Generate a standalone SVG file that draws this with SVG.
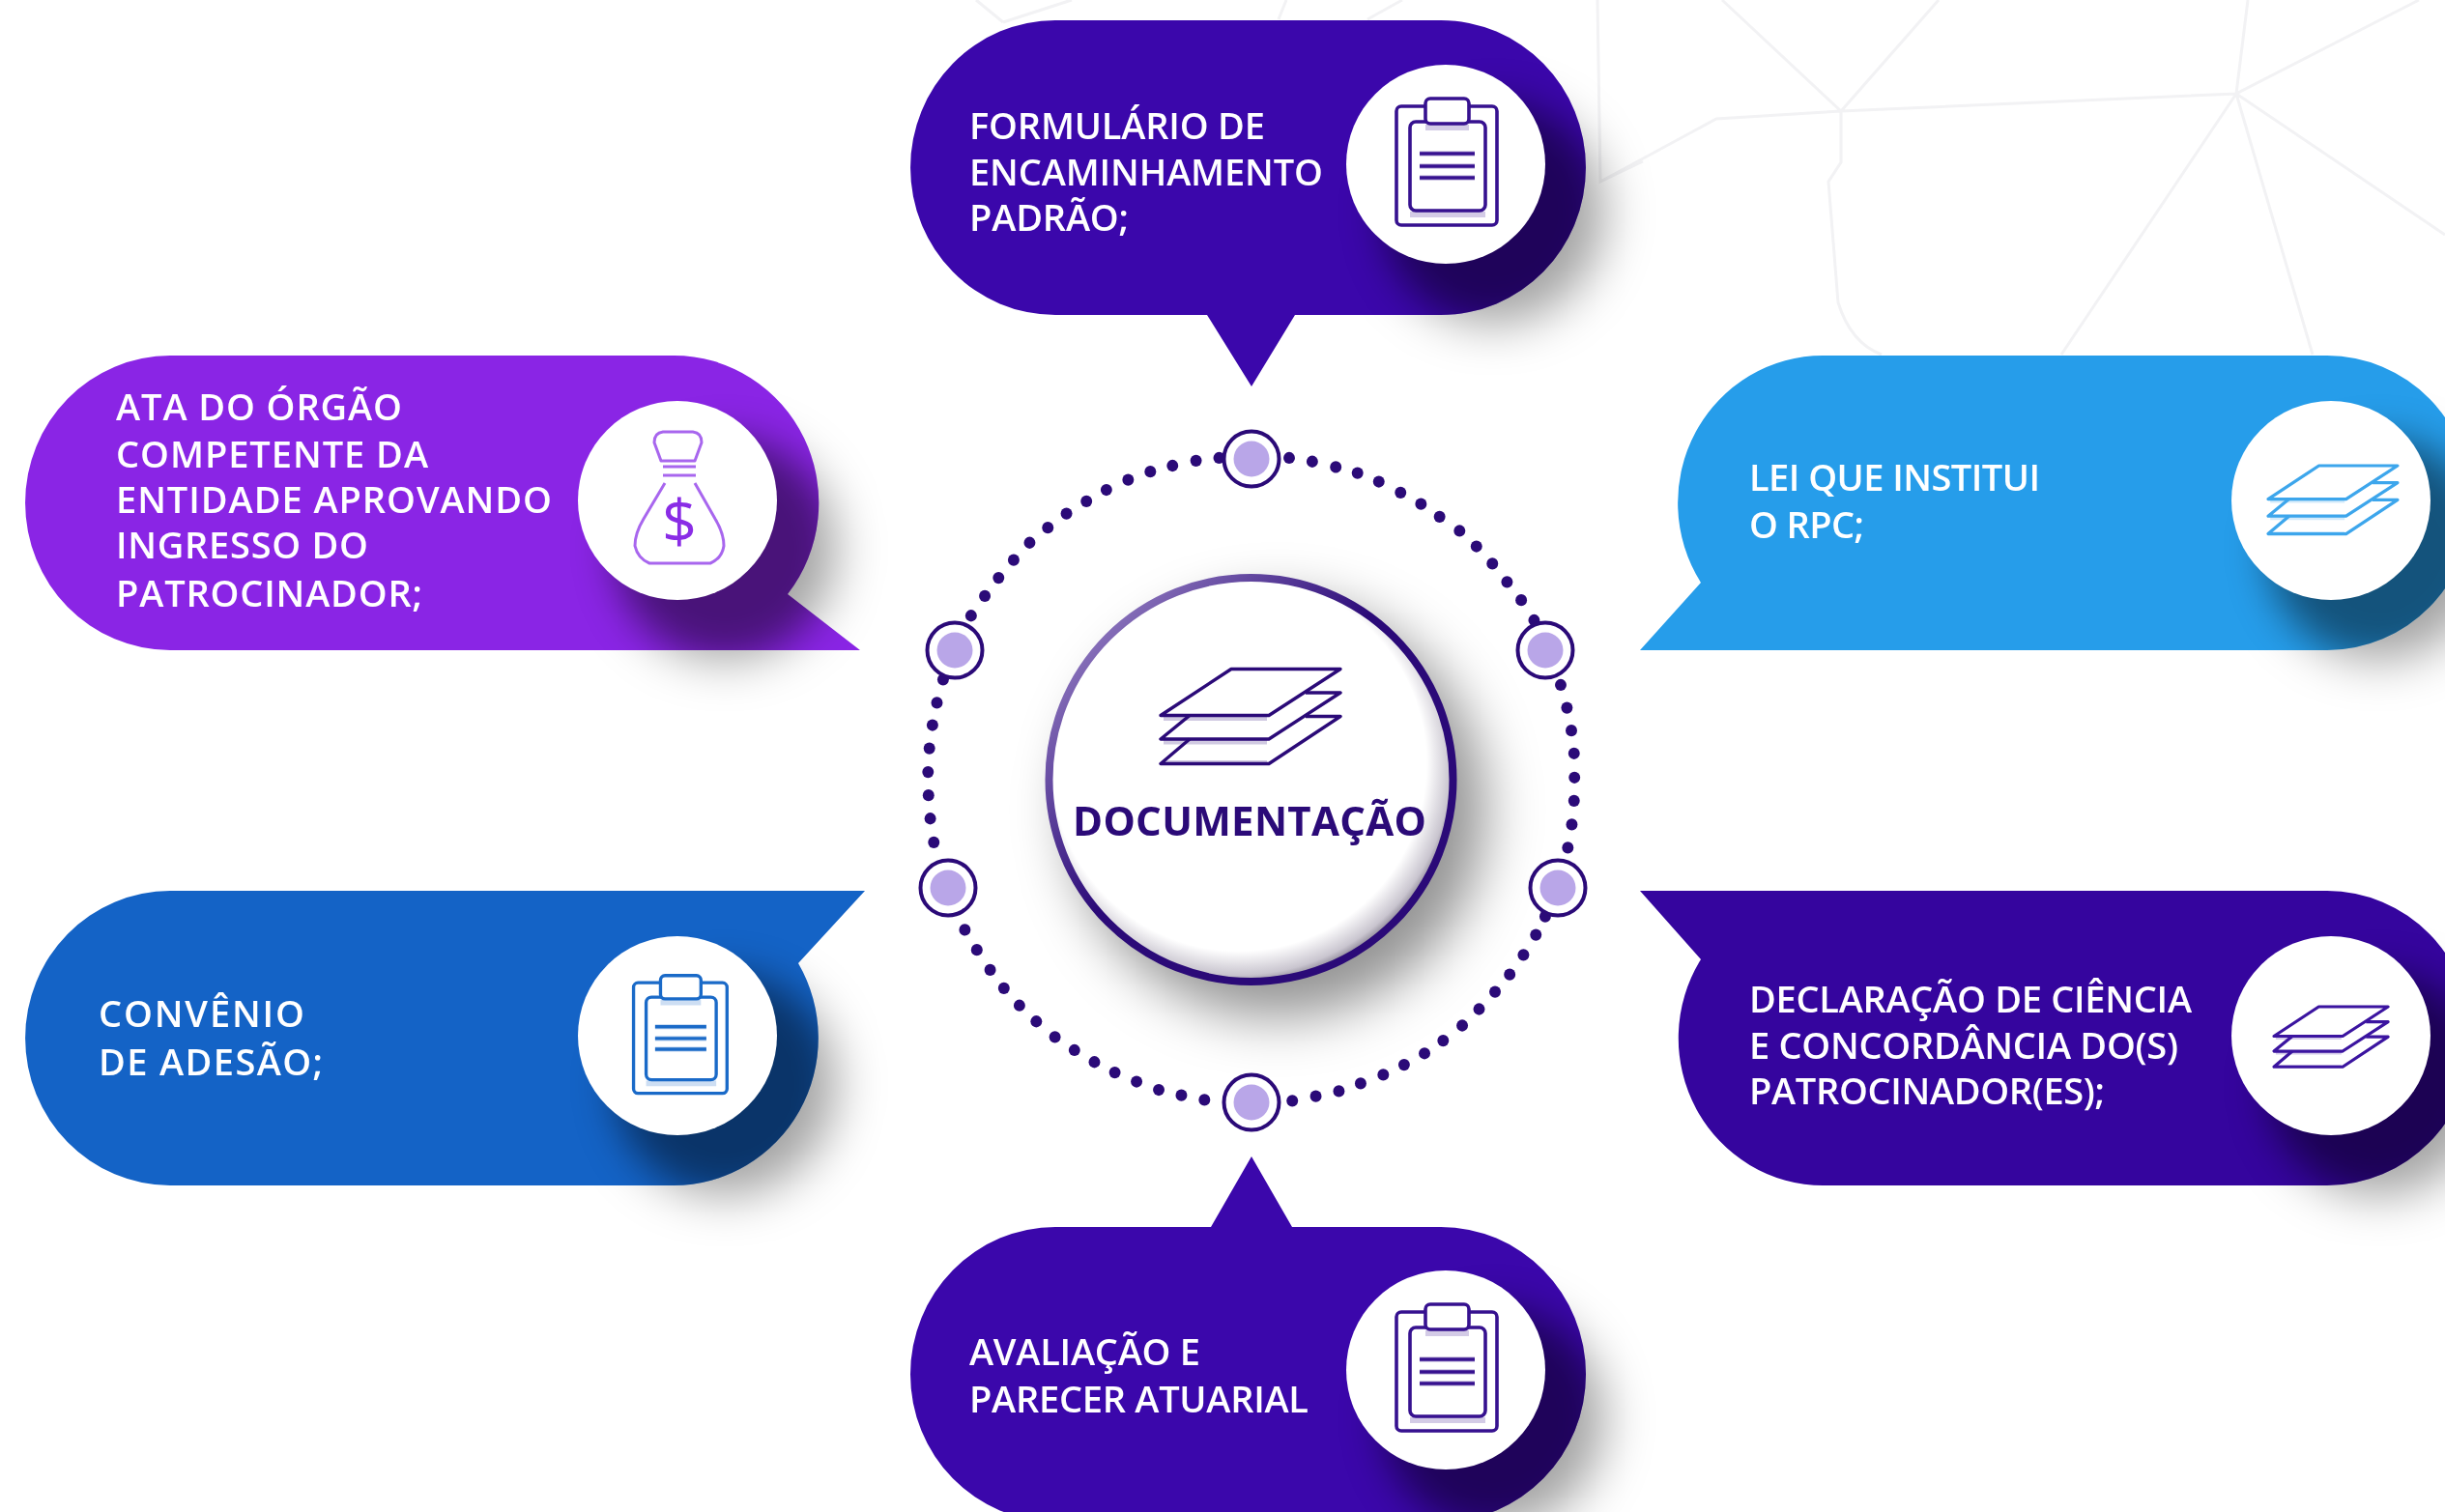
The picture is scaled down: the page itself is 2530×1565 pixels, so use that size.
<svg xmlns="http://www.w3.org/2000/svg" width="2530" height="1565" viewBox="0 0 2530 1565">
<style>
.net{fill:none;stroke:#f2f2f4;stroke-width:3}
.t{font-family:"Open Sans","Liberation Sans",sans-serif;font-size:38px;fill:#fff;font-weight:600}
.sh{fill:#000;fill-opacity:.47;filter:url(#blur)}
.so{fill:#000;fill-opacity:.36;filter:url(#blur3)}
.disc{fill:#fff}
.ic{fill:none;stroke:currentColor;stroke-linejoin:round}
.gh{fill:none;stroke:currentColor;stroke-opacity:.22}
.d{fill:#2b0a78}
.rn{fill:#fff;stroke:#2b0a78;stroke-width:4}
.rc{fill:#b9a6e8}
</style>
<defs>
<filter id="soft" filterUnits="userSpaceOnUse" x="-20" y="-20" width="2600" height="1620" color-interpolation-filters="sRGB"><feGaussianBlur stdDeviation=".75"/></filter>
<filter id="blur" x="-60%" y="-60%" width="220%" height="220%" color-interpolation-filters="sRGB"><feGaussianBlur stdDeviation="20"/></filter>
<filter id="blur3" x="-60%" y="-60%" width="220%" height="220%" color-interpolation-filters="sRGB"><feGaussianBlur stdDeviation="25"/></filter>
<filter id="blur2" x="-30%" y="-30%" width="160%" height="160%" color-interpolation-filters="sRGB"><feGaussianBlur stdDeviation="28"/></filter>
<linearGradient id="rim" gradientUnits="userSpaceOnUse" x1="1130" y1="650" x2="1400" y2="900"><stop offset="0" stop-color="#8b74bc"/><stop offset=".55" stop-color="#2b0a78"/></linearGradient>
<radialGradient id="face" cx=".47" cy=".46" r=".54"><stop offset=".86" stop-color="#fff"/><stop offset=".97" stop-color="#c9c5cf"/><stop offset="1" stop-color="#9d98a6"/></radialGradient>
<path id="p1" d="M1092 21H1491A150 152.5 0 0 1 1491 326H1340L1295 400L1249 326H1092A150 152.5 0 0 1 1092 21Z"/>
<path id="p2" d="M176 368H697A150 152.5 0 0 1 815 615L890 673H176A150 152.5 0 0 1 176 368Z"/>
<path id="p3" d="M1887 368H2408A150 152.5 0 0 1 2408 673H1697L1760 603A150 152.5 0 0 1 1887 368Z"/>
<path id="p4" d="M176 922H895L826 997A150 152.5 0 0 1 697 1227H176A150 152.5 0 0 1 176 922Z"/>
<path id="p5" d="M1697 922H2408A150 152.5 0 0 1 2408 1227H1887A150 152.5 0 0 1 1760 993Z"/>
<path id="p6" d="M1092 1270H1253L1295 1197L1337 1270H1491A150 152.5 0 0 1 1491 1575H1092A150 152.5 0 0 1 1092 1270Z"/>
<clipPath id="c1"><use href="#p1"/></clipPath>
<clipPath id="c2"><use href="#p2"/></clipPath>
<clipPath id="c3"><use href="#p3"/></clipPath>
<clipPath id="c4"><use href="#p4"/></clipPath>
<clipPath id="c5"><use href="#p5"/></clipPath>
<clipPath id="c6"><use href="#p6"/></clipPath>
<g id="clip">
<g class="gh" stroke-width="6"><path d="M-37 52H41M-27-11H30M-27 2H30M-27 14H30M-21-38H24"/></g>
<g class="ic" stroke-width="3.6">
<rect x="-51" y="-60" width="104" height="123" rx="5"/>
<rect x="-37" y="-44" width="78" height="92" rx="6"/>
<rect x="-21" y="-68" width="45" height="26" rx="5" fill="#fff"/>
<path d="M-27-11H30M-27 2H30M-27 14H30"/>
</g>
</g>
<g id="stack">
<path class="gh" stroke-width="5" transform="translate(0 3)" d="M3 48H110M3 72.5H110M3 94H110"/>
<g class="ic"><path d="M73 0H186L112 48H0Z"/><path d="M30 48L0 72.5H112L186 24.5H150"/><path d="M30 72.5L0 98H112L186 49H150"/></g>
</g>
</defs>
<g filter="url(#soft)">
<rect x="-20" y="-20" width="2600" height="1620" fill="#fff"/>
<g id="background" class="net">
<path d="M1782 0L1905 115L2006 0M1656 188L1776 123L1905 115L2314 97L2326 0M2503 0L2314 97L2530 243M2314 97L2133 367M2314 97L2393 367M1905 115V168L1892 188L1902 313Q1915 355 1947 367M1653 0L1656 188L1700 167M1010 0L1038 23M1109 0L1038 23M1331 0L1323 20M1451 0L1415 20"/>
</g>
<g id="connectors" transform="translate(930 440) scale(.4591 .4719)">
<g class="d">
<circle cx="880" cy="72" r="13"/><circle cx="932" cy="80" r="13"/><circle cx="985" cy="92" r="13"/><circle cx="1034" cy="105" r="13"/><circle cx="1082" cy="124" r="13"/><circle cx="1131" cy="148" r="13"/><circle cx="1177" cy="173" r="13"/><circle cx="1219" cy="201" r="13"/><circle cx="1264" cy="232" r="13"/><circle cx="1302" cy="266" r="13"/><circle cx="1338" cy="304" r="13"/><circle cx="1371" cy="344" r="13"/><circle cx="1403" cy="384" r="13"/><circle cx="1432" cy="428" r="13"/>
<circle cx="1492" cy="570" r="13"/><circle cx="1506" cy="620" r="13"/><circle cx="1516" cy="670" r="13"/><circle cx="1522" cy="720" r="13"/><circle cx="1523" cy="773" r="13"/><circle cx="1522" cy="824" r="13"/><circle cx="1517" cy="876" r="13"/><circle cx="1508" cy="927" r="13"/>
<circle cx="1457" cy="1078" r="13"/><circle cx="1436" cy="1118" r="13"/><circle cx="1408" cy="1162" r="13"/><circle cx="1377" cy="1205" r="13"/><circle cx="1344" cy="1243" r="13"/><circle cx="1308" cy="1281" r="13"/><circle cx="1270" cy="1317" r="13"/><circle cx="1227" cy="1350" r="13"/><circle cx="1185" cy="1378" r="13"/><circle cx="1139" cy="1403" r="13"/><circle cx="1092" cy="1425" r="13"/><circle cx="1041" cy="1444" r="13"/><circle cx="992" cy="1461" r="13"/><circle cx="940" cy="1472" r="13"/><circle cx="887" cy="1482" r="13"/>
<circle cx="689" cy="1480" r="13"/><circle cx="637" cy="1470" r="13"/><circle cx="586" cy="1458" r="13"/><circle cx="536" cy="1440" r="13"/><circle cx="487" cy="1420" r="13"/><circle cx="441" cy="1397" r="13"/><circle cx="396" cy="1371" r="13"/><circle cx="352" cy="1342" r="13"/><circle cx="310" cy="1308" r="13"/><circle cx="272" cy="1273" r="13"/><circle cx="237" cy="1235" r="13"/><circle cx="206" cy="1195" r="13"/><circle cx="176" cy="1151" r="13"/><circle cx="149" cy="1107" r="13"/>
<circle cx="79" cy="915" r="13"/><circle cx="71" cy="863" r="13"/><circle cx="67" cy="812" r="13"/><circle cx="66" cy="761" r="13"/><circle cx="69" cy="709" r="13"/><circle cx="76" cy="658" r="13"/><circle cx="86" cy="609" r="13"/><circle cx="100" cy="558" r="13"/>
<circle cx="163" cy="418" r="13"/><circle cx="194" cy="375" r="13"/><circle cx="225" cy="335" r="13"/><circle cx="259" cy="296" r="13"/><circle cx="295" cy="258" r="13"/><circle cx="336" cy="225" r="13"/><circle cx="378" cy="194" r="13"/><circle cx="423" cy="167" r="13"/><circle cx="468" cy="142" r="13"/><circle cx="517" cy="120" r="13"/><circle cx="567" cy="102" r="13"/><circle cx="617" cy="89" r="13"/><circle cx="670" cy="78" r="13"/><circle cx="722" cy="72" r="13"/>
</g>
</g>
<g id="ring-nodes">
<g id="ring-top"><circle class="rn" cx="1295" cy="475" r="28.5"/><circle class="rc" cx="1295" cy="475" r="18.5"/></g>
<g id="ring-upper-left"><circle class="rn" cx="988" cy="673" r="28.5"/><circle class="rc" cx="988" cy="673" r="18.5"/></g>
<g id="ring-upper-right"><circle class="rn" cx="1599" cy="673" r="28.5"/><circle class="rc" cx="1599" cy="673" r="18.5"/></g>
<g id="ring-lower-left"><circle class="rn" cx="981" cy="919" r="28.5"/><circle class="rc" cx="981" cy="919" r="18.5"/></g>
<g id="ring-lower-right"><circle class="rn" cx="1612" cy="919" r="28.5"/><circle class="rc" cx="1612" cy="919" r="18.5"/></g>
<g id="ring-bottom"><circle class="rn" cx="1295" cy="1141" r="28.5"/><circle class="rc" cx="1295" cy="1141" r="18.5"/></g>
</g>
<g id="center">
<circle cx="1322" cy="838" r="215" fill="#000" fill-opacity=".42" filter="url(#blur2)"/>
<circle cx="1294.5" cy="807" r="209" fill="url(#face)" stroke="url(#rim)" stroke-width="8"/>
<use href="#stack" x="1201" y="692.5" color="#2b0a78" stroke-width="3.4"/>
<text x="1110" y="865" font-family="'Open Sans','Liberation Sans',sans-serif" font-size="42" font-weight="700" fill="#2b0a78" textLength="366">DOCUMENTAÇÃO</text>
</g>
<g id="node-top">
<circle class="so" cx="1545" cy="220" r="115"/>
<use href="#p1" fill="#3b07ab"/>
<g clip-path="url(#c1)"><circle class="sh" cx="1545" cy="220" r="115"/></g>
<circle class="disc" cx="1496" cy="170" r="103"/>
<use href="#clip" x="1496" y="170" color="#36118f"/>
<text class="t" x="1003" y="144" textLength="306">FORMULÁRIO DE</text>
<text class="t" x="1003" y="192" textLength="366">ENCAMINHAMENTO</text>
<text class="t" x="1003" y="239" textLength="165">PADRÃO;</text>
</g>
<g id="node-upper-left">
<circle class="so" cx="750" cy="568" r="115"/>
<use href="#p2" fill="#8a25e5"/>
<g clip-path="url(#c2)"><circle class="sh" cx="750" cy="568" r="115"/></g>
<circle class="disc" cx="701" cy="518" r="103"/>
<g class="ic" color="#a866ee" stroke-width="3">
<path d="M686 447H717Q726 448 726 458L719 477H684L677 458Q677 448 686 447Z"/>
<path d="M686 483H720M686 492H720"/>
<path d="M688 500L666 537Q657 552 657 565Q660 578 672 583H735Q747 578 749 565Q749 552 740 537L719 500"/>
</g>
<text x="703" y="562" text-anchor="middle" font-family="'Open Sans','Liberation Sans',sans-serif" font-size="63" font-weight="400" fill="#8a2ce6">$</text>
<text class="t" x="120" y="435" textLength="296">ATA DO ÓRGÃO</text>
<text class="t" x="120" y="484" textLength="323">COMPETENTE DA</text>
<text class="t" x="120" y="531" textLength="451">ENTIDADE APROVANDO</text>
<text class="t" x="120" y="578" textLength="261">INGRESSO DO</text>
<text class="t" x="120" y="628" textLength="317">PATROCINADOR;</text>
</g>
<g id="node-upper-right">
<circle class="so" cx="2461" cy="568" r="115"/>
<use href="#p3" fill="#269dea"/>
<g clip-path="url(#c3)"><circle class="sh" cx="2461" cy="568" r="115"/></g>
<circle class="disc" cx="2412" cy="518" r="103"/>
<use href="#stack" transform="translate(2347 482) scale(.72)" color="#3da6ec" stroke-width="4.5"/>
<text class="t" x="1810" y="508" textLength="301">LEI QUE INSTITUI</text>
<text class="t" x="1810" y="557" textLength="119">O RPC;</text>
</g>
<g id="node-lower-left">
<circle class="so" cx="750" cy="1122" r="115"/>
<use href="#p4" fill="#1463c6"/>
<g clip-path="url(#c4)"><circle class="sh" cx="750" cy="1122" r="115"/></g>
<circle class="disc" cx="701" cy="1072" r="103"/>
<use href="#clip" transform="translate(703 1073) scale(.93)" color="#1a6ac8"/>
<text class="t" x="102" y="1063" textLength="213">CONVÊNIO</text>
<text class="t" x="102" y="1113" textLength="232">DE ADESÃO;</text>
</g>
<g id="node-lower-right">
<circle class="so" cx="2461" cy="1122" r="115"/>
<use href="#p5" fill="#35059e"/>
<g clip-path="url(#c5)"><circle class="sh" cx="2461" cy="1122" r="115"/></g>
<circle class="disc" cx="2412" cy="1072" r="103"/>
<use href="#stack" transform="translate(2353 1042) scale(.635)" color="#3b14a0" stroke-width="5"/>
<text class="t" x="1810" y="1048" textLength="458">DECLARAÇÃO DE CIÊNCIA</text>
<text class="t" x="1810" y="1096" textLength="444">E CONCORDÂNCIA DO(S)</text>
<text class="t" x="1810" y="1143" textLength="368">PATROCINADOR(ES);</text>
</g>
<g id="node-bottom">
<circle class="so" cx="1545" cy="1468" r="115"/>
<use href="#p6" fill="#3b07ab"/>
<g clip-path="url(#c6)"><circle class="sh" cx="1545" cy="1468" r="115"/></g>
<circle class="disc" cx="1496" cy="1418" r="103"/>
<use href="#clip" x="1496" y="1418" color="#36118f"/>
<text class="t" x="1003" y="1413" textLength="239">AVALIAÇÃO E</text>
<text class="t" x="1003" y="1462" textLength="351">PARECER ATUARIAL</text>
</g>
</g>
</svg>
